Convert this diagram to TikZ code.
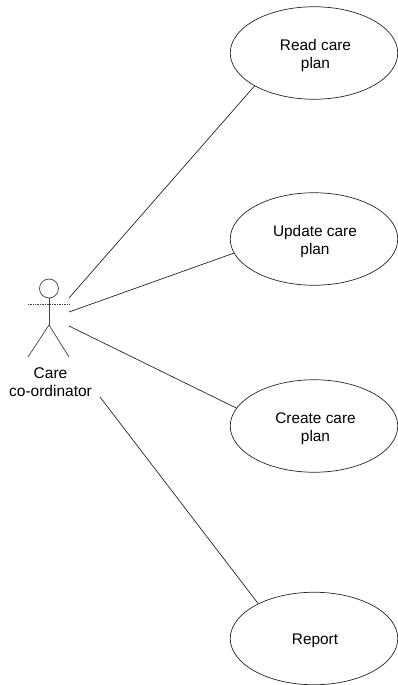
\documentclass[tikz,border=0pt]{standalone}
\usepackage{fontspec}
\setmainfont{Liberation Sans}
\usetikzlibrary{shapes.geometric}
\tikzset{
  usecase/.style={ellipse,draw=black!85,line width=0.7pt,minimum width=167.5pt,minimum height=92.5pt,inner sep=0pt},
  caselabel/.style={align=center,inner sep=0pt,font=\fontsize{15.4}{18}\selectfont},
  actorline/.style={draw=black!75,line width=0.7pt},
  assoc/.style={draw=black!85,line width=0.7pt},
  actorlabel/.style={align=center,inner sep=0pt,font=\fontsize{15.5}{18}\selectfont}
}
\begin{document}
\begin{tikzpicture}[x=1pt,y=-1pt]
\useasboundingbox (0,0) rectangle (398,685);
\node[usecase] (e1) at (314,53) {};
\node[usecase] (e2) at (314,239) {};
\node[usecase] (e3) at (314,426) {};
\node[usecase] (e4) at (314,638.5) {};
\node[caselabel] (t1) at (315.5,56) {Read care\\plan};
\node[caselabel] (t2) at (315,242) {Update care\\plan};
\node[caselabel] (t3) at (315.5,429) {Create care\\plan};
\node[caselabel] (t4) at (315,641) {Report};
% actor
\node[circle,actorline,minimum size=19pt,inner sep=0pt] (head) at (49,288.5) {};
\coordinate (armL) at (28,304.5);
\coordinate (armR) at (70,304.5);
\coordinate (hip) at (49,325);
\coordinate (footL) at (28,357);
\coordinate (footR) at (69,357);
\draw[actorline,densely dotted] (armL) -- (armR);
\draw[actorline] (head.south) -- (hip);
\draw[actorline] (footL) -- (hip) -- (footR);
\node[actorlabel] (actor) at (50.5,382.5) {Care\\co-ordinator};
% associations
\coordinate (a1) at (69,298);
\coordinate (a2) at (69,312);
\coordinate (a3) at (69,326);
\coordinate (a4) at (100,397);
\draw[assoc] (a1) -- (e1.209);
\draw[assoc] (a2) -- (e2.190);
\draw[assoc] (a3) -- (e3.167);
\draw[assoc] (a4) -- (e4.148);
\end{tikzpicture}
\end{document}
